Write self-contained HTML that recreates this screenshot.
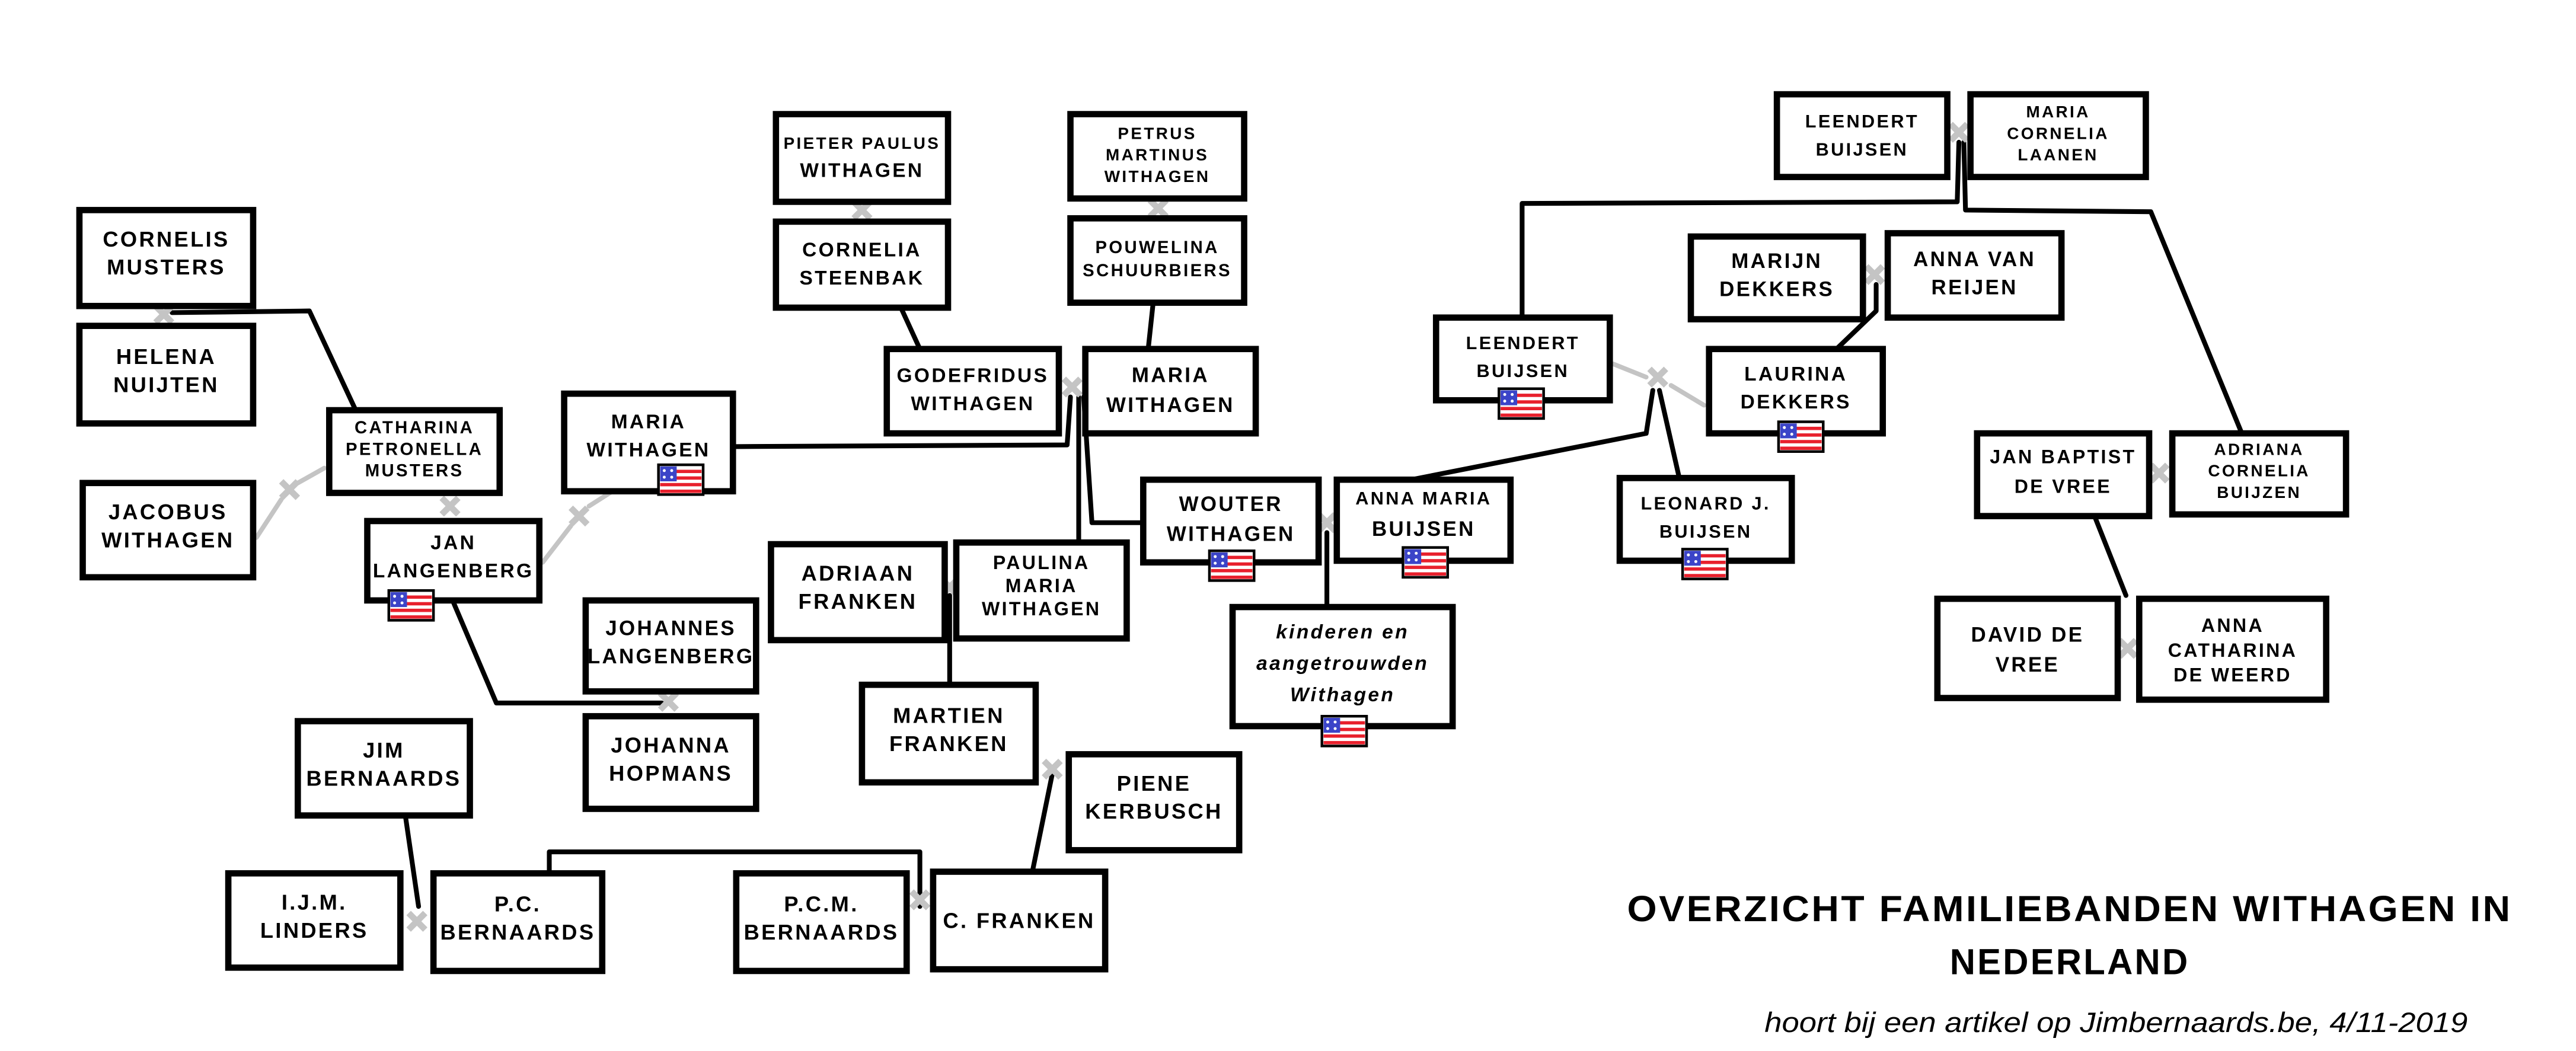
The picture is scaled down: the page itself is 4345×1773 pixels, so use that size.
<!DOCTYPE html>
<html><head><meta charset="utf-8"><style>
html,body{margin:0;padding:0;background:#fff;}
svg{display:block}
.t{font-family:"Liberation Sans Narrow","Liberation Sans",sans-serif;font-weight:bold;text-anchor:middle;fill:#000;letter-spacing:1.2px}
.b{fill:#fff;stroke:#000;stroke-width:3.8}
.l{fill:none;stroke:#000;stroke-width:2.9;stroke-linecap:round;stroke-linejoin:round}
.g{fill:none;stroke:#c4c4c4;stroke-width:2.8;stroke-linecap:round}
.x{stroke:#c4c4c4;stroke-width:3.8;stroke-linecap:butt}
</style></head><body>
<svg width="4345" height="1773" viewBox="0 0 1557 635.4" preserveAspectRatio="none" xmlns="http://www.w3.org/2000/svg">
<defs>
<g id="flag">
<rect x="0" y="0" width="27" height="18" fill="#fff" stroke="#000" stroke-width="1.6"/>
<rect x="1" y="3" width="25" height="2" fill="#e8202c"/>
<rect x="1" y="7" width="25" height="2" fill="#e8202c"/>
<rect x="1" y="11" width="25" height="2" fill="#e8202c"/>
<rect x="1" y="15" width="25" height="2" fill="#e8202c"/>
<rect x="1" y="1" width="10" height="9" fill="#3b44c8"/>
<circle cx="3.5" cy="3.5" r="0.9" fill="#fff"/><circle cx="8" cy="3.5" r="0.9" fill="#fff"/>
<circle cx="3.5" cy="7.5" r="0.9" fill="#fff"/><circle cx="8" cy="7.5" r="0.9" fill="#fff"/>
</g>
<g id="mx"><line class="x" x1="-5" y1="-5" x2="5" y2="5"/><line class="x" x1="-5" y1="5" x2="5" y2="-5"/></g>
</defs>

<polyline class="l" points="104,189 187,188 215,248"/>
<line class="g" x1="155" y1="325" x2="170" y2="302"/><line class="g" x1="180" y1="292" x2="196" y2="283"/>
<line class="g" x1="328" y1="340" x2="345" y2="318"/><line class="g" x1="356" y1="306" x2="378" y2="292"/>
<polyline class="l" points="274,364 300,425 400,425"/>
<polyline class="l" points="443,270 645,269 647,240"/>
<polyline class="l" points="556,211 545,187"/>
<polyline class="l" points="697,183 694,211"/>
<polyline class="l" points="652,240 652,328"/>
<polyline class="l" points="655,240 660,316 691,316"/>
<polyline class="l" points="574,360 574,414"/>
<polyline class="l" points="636,468 624,527"/>
<polyline class="l" points="556,548 556,515 332,515 332,528"/>
<polyline class="l" points="245,493 253,548"/>
<polyline class="l" points="802,322 802,367"/>
<polyline class="l" points="853,290 995,262 999,236"/>
<polyline class="l" points="1003,236 1015,289"/>
<line class="g" x1="975" y1="220" x2="995" y2="228"/><line class="g" x1="1010" y1="233" x2="1030" y2="245"/>
<polyline class="l" points="1110,211 1134,188 1134,172"/>
<polyline class="l" points="1184,86 1183,122 920,123 920,192"/>
<polyline class="l" points="1187,86 1188,127 1300,128 1355,262"/>
<polyline class="l" points="1266,312 1285,360"/>

<use href="#mx" x="99" y="190"/>
<use href="#mx" x="175" y="296"/>
<use href="#mx" x="272" y="306"/>
<use href="#mx" x="350" y="312"/>
<use href="#mx" x="404" y="424"/>
<use href="#mx" x="521" y="127"/>
<use href="#mx" x="700" y="126"/>
<use href="#mx" x="648" y="234"/>
<use href="#mx" x="574" y="355"/>
<use href="#mx" x="636" y="465"/>
<use href="#mx" x="556" y="544"/>
<use href="#mx" x="252" y="557"/>
<use href="#mx" x="802" y="316"/>
<use href="#mx" x="1002" y="228"/>
<use href="#mx" x="1133" y="166"/>
<use href="#mx" x="1184" y="80"/>
<use href="#mx" x="1305" y="286"/>
<use href="#mx" x="1286" y="392"/>

<g>
<rect class="b" x="48" y="127" width="105" height="58"/>
<text class="t" font-size="13" x="100.5" y="149">CORNELIS</text><text class="t" font-size="13" x="100.5" y="166">MUSTERS</text>

<rect class="b" x="48" y="197" width="105" height="59"/>
<text class="t" font-size="13" x="100.5" y="220">HELENA</text><text class="t" font-size="13" x="100.5" y="237">NUIJTEN</text>

<rect class="b" x="50" y="292" width="103" height="57"/>
<text class="t" font-size="13" x="101.5" y="314">JACOBUS</text><text class="t" font-size="13" x="101.5" y="331">WITHAGEN</text>

<rect class="b" x="199" y="248" width="103" height="50"/>
<text class="t" font-size="10.5" x="250.5" y="262">CATHARINA</text><text class="t" font-size="10.5" x="250.5" y="275">PETRONELLA</text><text class="t" font-size="10.5" x="250.5" y="288">MUSTERS</text>

<rect class="b" x="222" y="315" width="104" height="48"/>
<text class="t" font-size="12" x="274" y="332">JAN</text><text class="t" font-size="12" x="274" y="349">LANGENBERG</text>
<use href="#flag" x="235" y="357"/>

<rect class="b" x="341" y="238" width="102" height="59"/>
<text class="t" font-size="12" x="392" y="259">MARIA</text><text class="t" font-size="12" x="392" y="276">WITHAGEN</text>
<use href="#flag" x="398" y="281"/>

<rect class="b" x="354" y="363" width="103" height="55"/>
<text class="t" font-size="12.5" x="405.5" y="384">JOHANNES</text><text class="t" font-size="12.5" x="405.5" y="401">LANGENBERG</text>

<rect class="b" x="354" y="433" width="103" height="56"/>
<text class="t" font-size="13" x="405.5" y="455">JOHANNA</text><text class="t" font-size="13" x="405.5" y="472">HOPMANS</text>

<rect class="b" x="180" y="436" width="104" height="57"/>
<text class="t" font-size="13" x="232" y="458">JIM</text><text class="t" font-size="13" x="232" y="475">BERNAARDS</text>

<rect class="b" x="138" y="528" width="104" height="57"/>
<text class="t" font-size="13" x="190" y="550">I.J.M.</text><text class="t" font-size="13" x="190" y="567">LINDERS</text>

<rect class="b" x="262" y="528" width="102" height="59"/>
<text class="t" font-size="13" x="313" y="551">P.C.</text><text class="t" font-size="13" x="313" y="568">BERNAARDS</text>

<rect class="b" x="445" y="528" width="103" height="59"/>
<text class="t" font-size="13" x="496.5" y="551">P.C.M.</text><text class="t" font-size="13" x="496.5" y="568">BERNAARDS</text>

<rect class="b" x="564" y="527" width="104" height="59"/>
<text class="t" font-size="13" x="616" y="561">C. FRANKEN</text>

<rect class="b" x="646" y="456" width="103" height="58"/>
<text class="t" font-size="13" x="697.5" y="478">PIENE</text><text class="t" font-size="13" x="697.5" y="495">KERBUSCH</text>

<rect class="b" x="521" y="414" width="105" height="59"/>
<text class="t" font-size="13" x="573.5" y="437">MARTIEN</text><text class="t" font-size="13" x="573.5" y="454">FRANKEN</text>

<rect class="b" x="466" y="329" width="105" height="58"/>
<text class="t" font-size="13" x="518.5" y="351">ADRIAAN</text><text class="t" font-size="13" x="518.5" y="368">FRANKEN</text>

<rect class="b" x="578" y="328" width="103" height="58"/>
<text class="t" font-size="11.5" x="629.5" y="344">PAULINA</text><text class="t" font-size="11.5" x="629.5" y="358">MARIA</text><text class="t" font-size="11.5" x="629.5" y="372">WITHAGEN</text>

<rect class="b" x="469" y="69" width="104" height="53"/>
<text class="t" font-size="10" x="521" y="90">PIETER PAULUS</text><text class="t" font-size="12" x="521" y="107">WITHAGEN</text>

<rect class="b" x="469" y="134" width="104" height="52"/>
<text class="t" font-size="12" x="521" y="155">CORNELIA</text><text class="t" font-size="12" x="521" y="172">STEENBAK</text>

<rect class="b" x="536" y="211" width="104" height="51"/>
<text class="t" font-size="12" x="588" y="231">GODEFRIDUS</text><text class="t" font-size="12" x="588" y="248">WITHAGEN</text>

<rect class="b" x="647" y="69" width="105" height="51"/>
<text class="t" font-size="10" x="699.5" y="84">PETRUS</text><text class="t" font-size="10" x="699.5" y="97">MARTINUS</text><text class="t" font-size="10" x="699.5" y="110">WITHAGEN</text>

<rect class="b" x="647" y="132" width="105" height="51"/>
<text class="t" font-size="10.5" x="699.5" y="153">POUWELINA</text><text class="t" font-size="10.5" x="699.5" y="167">SCHUURBIERS</text>

<rect class="b" x="656" y="211" width="103" height="51"/>
<text class="t" font-size="12.5" x="707.5" y="231">MARIA</text><text class="t" font-size="12.5" x="707.5" y="249">WITHAGEN</text>

<rect class="b" x="691" y="290" width="106" height="50"/>
<text class="t" font-size="12.5" x="744" y="309">WOUTER</text><text class="t" font-size="12.5" x="744" y="327">WITHAGEN</text>
<use href="#flag" x="731" y="333"/>

<rect class="b" x="808" y="290" width="105" height="49"/>
<text class="t" font-size="11" x="860.5" y="305">ANNA MARIA</text><text class="t" font-size="12.5" x="860.5" y="324">BUIJSEN</text>
<use href="#flag" x="848" y="331"/>

<rect class="b" x="745" y="367" width="133" height="72"/>
<text class="t" font-size="12" font-style="italic" font-weight="normal" x="811.5" y="386">kinderen en</text>
<text class="t" font-size="12" font-style="italic" font-weight="normal" x="811.5" y="405">aangetrouwden</text>
<text class="t" font-size="12" font-style="italic" font-weight="normal" x="811.5" y="424">Withagen</text>
<use href="#flag" x="799" y="433"/>

<rect class="b" x="868" y="192" width="105" height="50"/>
<text class="t" font-size="11" x="920.5" y="211">LEENDERT</text><text class="t" font-size="11" x="920.5" y="228">BUIJSEN</text>
<use href="#flag" x="906" y="235"/>

<rect class="b" x="979" y="289" width="104" height="50"/>
<text class="t" font-size="11" x="1031" y="308">LEONARD J.</text><text class="t" font-size="11" x="1031" y="325">BUIJSEN</text>
<use href="#flag" x="1017" y="332"/>

<rect class="b" x="1033" y="211" width="105" height="51"/>
<text class="t" font-size="12" x="1085.5" y="230">LAURINA</text><text class="t" font-size="12" x="1085.5" y="247">DEKKERS</text>
<use href="#flag" x="1075" y="255"/>

<rect class="b" x="1022" y="143" width="104" height="50"/>
<text class="t" font-size="12.5" x="1074" y="162">MARIJN</text><text class="t" font-size="12.5" x="1074" y="179">DEKKERS</text>

<rect class="b" x="1141" y="141" width="105" height="51"/>
<text class="t" font-size="12.5" x="1193.5" y="161">ANNA VAN</text><text class="t" font-size="12.5" x="1193.5" y="178">REIJEN</text>

<rect class="b" x="1074" y="57" width="103" height="50"/>
<text class="t" font-size="11" x="1125.5" y="77">LEENDERT</text><text class="t" font-size="11" x="1125.5" y="94">BUIJSEN</text>

<rect class="b" x="1191" y="57" width="106" height="50"/>
<text class="t" font-size="10" x="1244" y="71">MARIA</text><text class="t" font-size="10" x="1244" y="84">CORNELIA</text><text class="t" font-size="10" x="1244" y="97">LAANEN</text>

<rect class="b" x="1195" y="262" width="104" height="50"/>
<text class="t" font-size="11.5" x="1247" y="280">JAN BAPTIST</text><text class="t" font-size="11.5" x="1247" y="298">DE VREE</text>

<rect class="b" x="1313" y="262" width="105" height="49"/>
<text class="t" font-size="10" x="1365.5" y="275">ADRIANA</text><text class="t" font-size="10" x="1365.5" y="288">CORNELIA</text><text class="t" font-size="10" x="1365.5" y="301">BUIJZEN</text>

<rect class="b" x="1171" y="362" width="109" height="60"/>
<text class="t" font-size="12.5" x="1225.5" y="388">DAVID DE</text><text class="t" font-size="12.5" x="1225.5" y="406">VREE</text>

<rect class="b" x="1293" y="362" width="113" height="61"/>
<text class="t" font-size="11.5" x="1349.5" y="382">ANNA</text><text class="t" font-size="11.5" x="1349.5" y="397">CATHARINA</text><text class="t" font-size="11.5" x="1349.5" y="412">DE WEERD</text>
</g>

<text class="t" font-size="22" x="1251" y="557" textLength="535" lengthAdjust="spacingAndGlyphs">OVERZICHT FAMILIEBANDEN WITHAGEN IN</text>
<text class="t" font-size="22" x="1251" y="589" textLength="145" lengthAdjust="spacingAndGlyphs">NEDERLAND</text>
<text font-family="Liberation Sans Narrow, Liberation Sans, sans-serif" font-style="italic" font-size="17" x="1279" y="624" text-anchor="middle" textLength="425" lengthAdjust="spacingAndGlyphs">hoort bij een artikel op Jimbernaards.be, 4/11-2019</text>
</svg>
</body></html>
